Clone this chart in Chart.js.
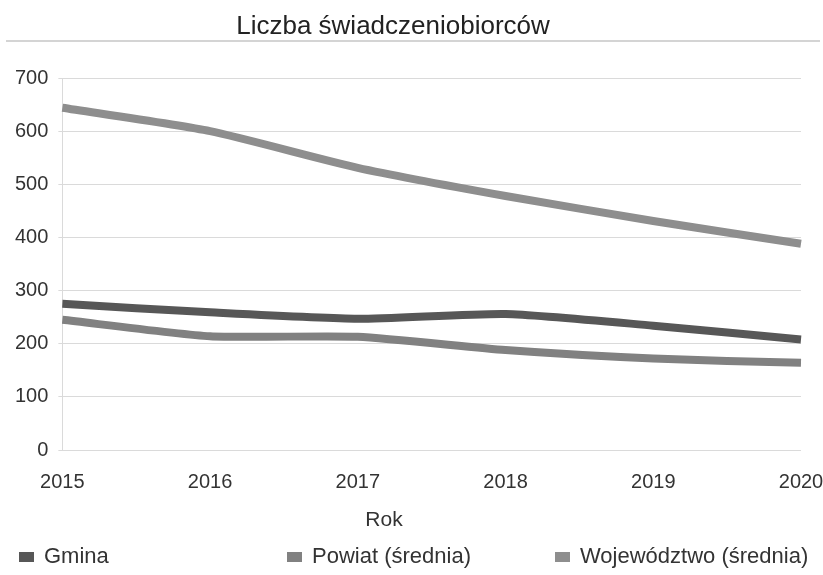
<!DOCTYPE html>
<html>
<head>
<meta charset="utf-8">
<script src="https://cdn.jsdelivr.net/npm/chart.js@4"></script>
<style>
  html, body { margin: 0; padding: 0; background: #fff; }
  #wrap { width: 823px; height: 575px; }
</style>
</head>
<body>
<div id="wrap"><canvas id="chart"></canvas></div>
<script>
const years = ['2015', '2016', '2017', '2018', '2019', '2020'];
const gmina = [275, 259, 247, 256, 234, 208];
const powiat = [245, 214, 213, 188, 172, 164];
const wojewodztwo = [644, 600, 531, 478, 431, 388];

const chartTitle = 'Liczba świadczeniobiorców';
const xTitle = 'Rok';

const font = 'Liberation Sans, Arial, sans-serif';

// title, its rule and the axis title sit off-centre in the scan, so draw them by hand
const titles = {
  id: 'titles',
  afterDraw(chart) {
    const ctx = chart.ctx;
    ctx.save();
    ctx.strokeStyle = '#d4d4d4';
    ctx.lineWidth = 2;
    ctx.beginPath();
    ctx.moveTo(6, 41);
    ctx.lineTo(820, 41);
    ctx.stroke();

    ctx.textAlign = 'center';
    ctx.textBaseline = 'middle';
    ctx.fillStyle = '#222';
    ctx.font = '26px ' + font;
    ctx.fillText(chartTitle, 393, 27);
    ctx.fillStyle = '#333';
    ctx.font = '21px ' + font;
    ctx.fillText(xTitle, 384, 520);
    ctx.restore();
  }
};

// legend in equal-width columns like the spreadsheet one
const columnLegend = {
  id: 'columnLegend',
  afterDraw(chart) {
    const ctx = chart.ctx;
    const colWidth = 268;
    const y = 557;
    ctx.save();
    ctx.font = '22px ' + font;
    ctx.textBaseline = 'middle';
    chart.data.datasets.forEach((ds, i) => {
      const x = 19 + i * colWidth;
      ctx.fillStyle = ds.borderColor;
      ctx.fillRect(x, y - 5, 15, 10);
      ctx.fillStyle = '#333';
      ctx.fillText(ds.label, x + 25, y);
    });
    ctx.restore();
  }
};

function series(label, data, color) {
  return {
    label: label,
    data: data,
    borderColor: color,
    backgroundColor: color,
    borderWidth: 8,
    borderCapStyle: 'butt',
    pointRadius: 0,
    tension: 0.2,
    fill: false
  };
}

new Chart(document.getElementById('chart'), {
  type: 'line',
  data: {
    labels: years,
    datasets: [
      series('Gmina', gmina, '#575757'),
      series('Powiat (średnia)', powiat, '#818181'),
      series('Województwo (średnia)', wojewodztwo, '#8e8e8e')
    ]
  },
  plugins: [titles, columnLegend],
  options: {
    responsive: true,
    maintainAspectRatio: false,
    animation: false,
    layout: { padding: { left: 5, right: 0, top: 78, bottom: 69 } },
    plugins: {
      legend: { display: false },
      tooltip: { enabled: false }
    },
    scales: {
      x: {
        offset: false,
        grid: { display: false },
        border: { display: false },
        ticks: { color: '#333', font: { family: font, size: 20 }, padding: 12, maxRotation: 0 },
        // last year label only needs half its width on the right
        afterFit(scale) { scale.paddingRight = 22; }
      },
      y: {
        min: 0,
        max: 700,
        ticks: { stepSize: 100, color: '#333', font: { family: font, size: 20 }, padding: 10 },
        grid: { color: '#dadada', lineWidth: 1, tickLength: 4 },
        border: { display: true, color: '#dadada' }
      }
    }
  }
});
</script>
</body>
</html>
